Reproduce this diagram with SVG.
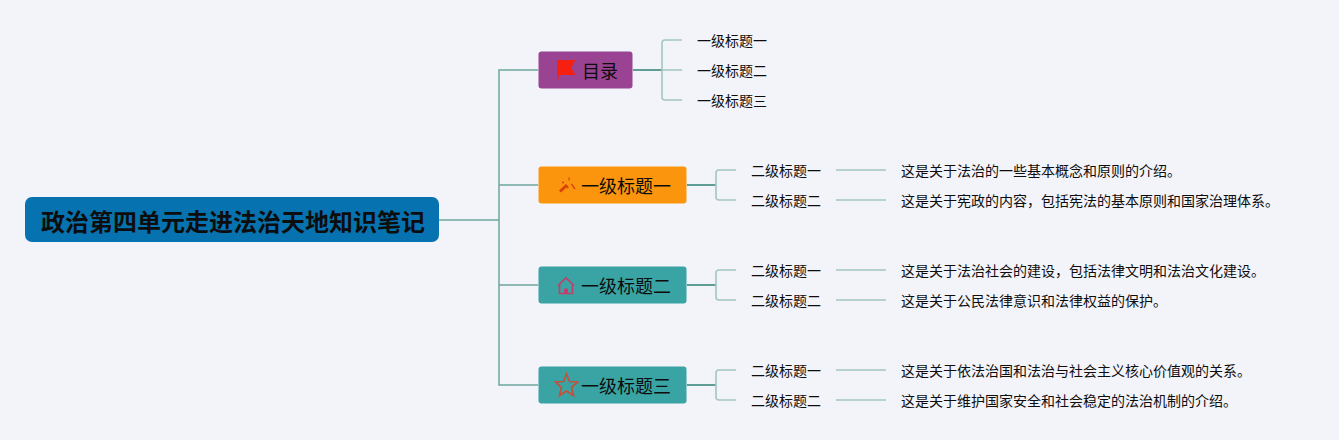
<svg xmlns="http://www.w3.org/2000/svg" width="1339" height="440" viewBox="0 0 1339 440">
<style>
text{font-family:"Noto Sans CJK SC","Noto Sans",sans-serif;fill:#0d0d0d;dominant-baseline:central}
.root{font-size:24px;font-weight:700}
.t1{font-size:18px}
.t2{font-size:14px}
.c1{fill:none;stroke:#6fa79d;stroke-width:1.500}
.c2{fill:none;stroke:#a3c6c0;stroke-width:1.600}
.c3{fill:none;stroke:#5f9e94;stroke-width:2}
</style>
<rect width="1339" height="440" fill="#f3f3fa"/>
<g id="connectors">
<path class="c1" d="M439 220H499M538 70H499V385H538M499 185H538M499 285H538"/>
<path class="c3" d="M633 70H662M687 185H716M687 285H716M687 385H716"/>
<path class="c2" d="M682 40H665Q662 40 662 43V97Q662 100 665 100H682M662 70H682"/>
<path class="c2" d="M736 170H719Q716 170 716 173V197Q716 200 719 200H736M836 170H886M836 200H886"/>
<path class="c2" d="M736 270H719Q716 270 716 273V297Q716 300 719 300H736M836 270H886M836 300H886"/>
<path class="c2" d="M736 370H719Q716 370 716 373V397Q716 400 719 400H736M836 370H886M836 400H886"/>
</g>
<g id="root"><rect x="25" y="197" width="414" height="45" rx="7" fill="#0673b0"/><text class="root" x="233" y="220" text-anchor="middle">政治第四单元走进法治天地知识笔记</text></g>
<g id="toc"><rect x="538.500" y="51.500" width="94" height="37" rx="3" fill="#9a4393"/>
<path d="M557 60H575.500L571 67.500L575.500 75H558.500V80H557Z" fill="#f5200f"/>
<text class="t1" x="582" y="70">目录</text></g>
<g id="h1"><rect x="538.500" y="166.500" width="148" height="37" rx="3" fill="#fb950e"/>
<g fill="#d9400c"><path d="M559 190.500L566 184L568 186L561 192.500Z"/><path d="M568.500 177.500l1.200 0 0 3-1.200 0ZM566 187l1.500-1 1.500 1.500-1.500 1ZM571 184.500l1-1 3.500 5-1 1Z"/><circle cx="563" cy="182.500" r="1"/></g>
<text class="t1" x="581" y="185">一级标题一</text></g>
<g id="h2"><rect x="538.500" y="266.500" width="148" height="37" rx="3" fill="#39a4a3"/>
<path d="M558 285.500L566 278L574 285.500M559.500 284.500V293.500H572.500V284.500" fill="none" stroke="#c13f6a" stroke-width="1.700"/><path d="M564 293.500V288.500H568V293.500Z" fill="#c13f6a"/>
<text class="t1" x="581" y="285">一级标题二</text></g>
<g id="h3"><rect x="538.500" y="366.500" width="148" height="37" rx="3" fill="#39a4a3"/>
<path d="M566.500 374L569.500 381.500L577.500 382L571.500 387.500L573.500 395.500L566.500 391L559.500 395.500L561.500 387.500L555.500 382L563.500 381.500Z" fill="none" stroke="#c4503c" stroke-width="1.700"/>
<text class="t1" x="581" y="385">一级标题三</text></g>
<g id="toc1"><text class="t2" x="697" y="40">一级标题一</text></g>
<g id="toc2"><text class="t2" x="697" y="70">一级标题二</text></g>
<g id="toc3"><text class="t2" x="697" y="100">一级标题三</text></g>
<g id="s11"><text class="t2" x="751" y="170">二级标题一</text></g>
<g id="d11"><text class="t2" x="901" y="170">这是关于法治的一些基本概念和原则的介绍。</text></g>
<g id="s12"><text class="t2" x="751" y="200">二级标题二</text></g>
<g id="d12"><text class="t2" x="901" y="200">这是关于宪政的内容，包括宪法的基本原则和国家治理体系。</text></g>
<g id="s21"><text class="t2" x="751" y="270">二级标题一</text></g>
<g id="d21"><text class="t2" x="901" y="270">这是关于法治社会的建设，包括法律文明和法治文化建设。</text></g>
<g id="s22"><text class="t2" x="751" y="300">二级标题二</text></g>
<g id="d22"><text class="t2" x="901" y="300">这是关于公民法律意识和法律权益的保护。</text></g>
<g id="s31"><text class="t2" x="751" y="370">二级标题一</text></g>
<g id="d31"><text class="t2" x="901" y="370">这是关于依法治国和法治与社会主义核心价值观的关系。</text></g>
<g id="s32"><text class="t2" x="751" y="400">二级标题二</text></g>
<g id="d32"><text class="t2" x="901" y="400">这是关于维护国家安全和社会稳定的法治机制的介绍。</text></g>
</svg>
